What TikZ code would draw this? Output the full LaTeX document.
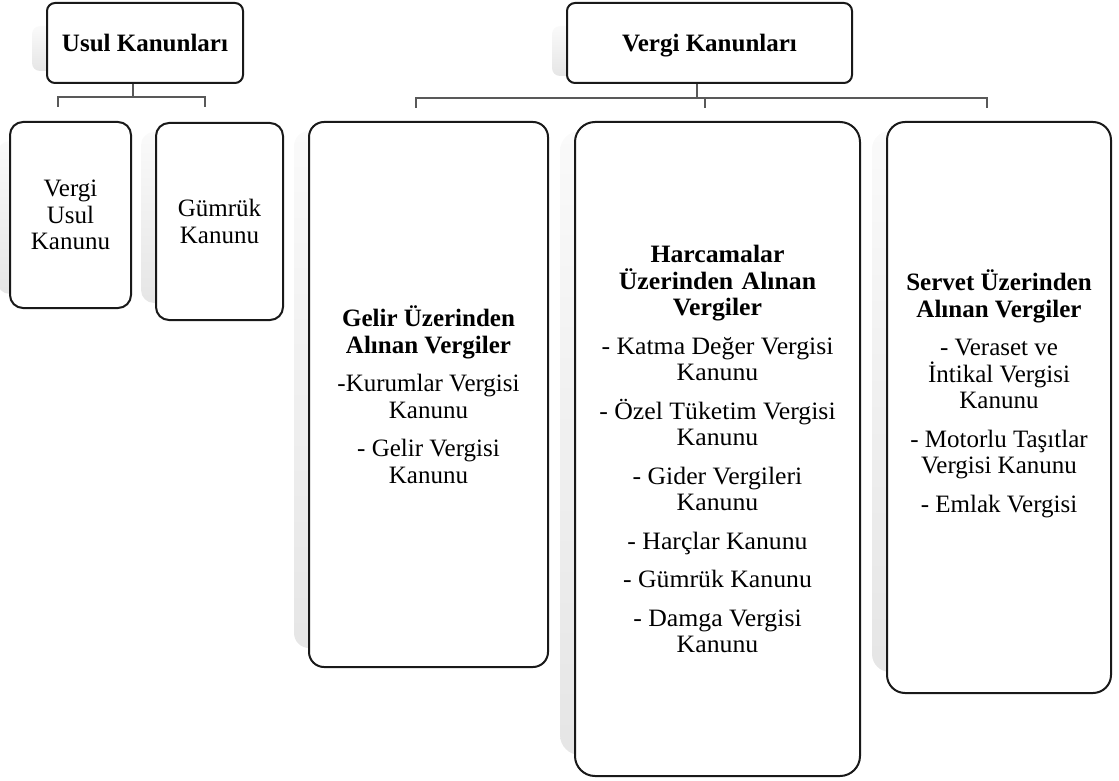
\documentclass[tikz,border=0pt]{standalone}
\usepackage{fontspec}
\setmainfont{Liberation Serif}
\usetikzlibrary{backgrounds}
\begin{document}
\begin{tikzpicture}[x=1pt,y=-1pt,
  box/.style={draw=black!90, line width=2pt, fill=white, align=center, inner sep=0pt,
              font=\fontsize{25}{26.5}\selectfont},
  txt/.style={align=center, inner sep=0pt, font=\fontsize{25}{26.5}\selectfont},
  conn/.style={draw=black!65, line width=1.3pt},
  shadowbox/.style={top color=black!2, bottom color=black!10, draw=none},
]
\useasboundingbox (0,0) rectangle (1119,781);

% top level
\node[box, rounded corners=8pt, minimum width=196pt, minimum height=80pt, text depth=0pt] (usul) at (145,43) {\textbf{Usul Kanunları}};
\node[box, rounded corners=8pt, minimum width=285pt, minimum height=80pt, text depth=0pt] (vergi) at (709.5,43) {\textbf{Vergi Kanunları}};

% usul children
\node[box, rounded corners=13pt, minimum width=121pt, minimum height=186pt] (vuk) at (70.5,215) {Vergi\\Usul\\Kanunu};
\node[box, rounded corners=13pt, minimum width=127pt, minimum height=197pt] (gumruk) at (219.5,221.5) {Gümrük\\Kanunu};

% vergi children
\node[box, rounded corners=15pt, minimum width=239pt, minimum height=545pt] (gelir) at (428.5,394.5)
 {\textbf{Gelir Üzerinden}\\\textbf{Alınan Vergiler}\\[12pt]
  -Kurumlar Vergisi\\Kanunu\\[12pt]
  - Gelir Vergisi\\Kanunu};
\node[box, rounded corners=20pt, minimum width=285pt, minimum height=654pt,
      font=\fontsize{25}{26.5}\selectfont\addfontfeature{FakeStretch=1.03}] (harc) at (717.5,449)
 {\textbf{Harcamalar}\\\textbf{Üzerinden\hspace{2pt} Alınan}\\\textbf{Vergiler}\\[12pt]
  - Katma Değer Vergisi\\Kanunu\\[12pt]
  - Özel Tüketim Vergisi\\Kanunu\\[12pt]
  - Gider Vergileri\\Kanunu\\[12pt]
  - Harçlar Kanunu\\[12pt]
  - Gümrük Kanunu\\[12pt]
  - Damga Vergisi\\Kanunu};
\node[box, rounded corners=18pt, minimum width=224pt, minimum height=571pt] (servet) at (999,407.5) {};
\node[txt] (servettext) at ([yshift=13.5pt]servet.center)
 {\textbf{Servet Üzerinden}\\\textbf{Alınan Vergiler}\\[12pt]
  - Veraset ve\\İntikal Vergisi\\Kanunu\\[12pt]
  - Motorlu Taşıtlar\\Vergisi Kanunu\\[12pt]
  - Emlak Vergisi};

% connectors
\coordinate (ubar) at (133,97);
\coordinate (ud1) at (58,107);
\coordinate (ud2) at (205,107);
\draw[conn] (usul.south -| ubar) -- (ubar);
\draw[conn] (ud1) |- (ubar) -| (ud2);

\coordinate (vbar) at (697,98);
\coordinate (vd1) at (416,108);
\coordinate (vd2) at (705,108);
\coordinate (vd3) at (987,108);
\draw[conn] (vergi.south -| vbar) -- (vbar);
\draw[conn] (vd1) |- (vbar) -| (vd3);
\draw[conn] (vd2) -- (vd2 |- vbar);

% shadows
\begin{scope}[on background layer]
\shade[shadowbox, rounded corners=8pt] ([xshift=-14pt,yshift=-24pt]usul.north west) rectangle ([xshift=-14pt,yshift=13pt]usul.south east);
\shade[shadowbox, rounded corners=8pt] ([xshift=-14pt,yshift=-24pt]vergi.north west) rectangle ([xshift=-14pt,yshift=8pt]vergi.south east);
\shade[shadowbox, rounded corners=13pt] ([xshift=-12pt,yshift=-20pt]vuk.north west) rectangle ([xshift=-12pt,yshift=15pt]vuk.south east);
\shade[shadowbox, rounded corners=13pt] ([xshift=-14pt,yshift=-10pt]gumruk.north west) rectangle ([xshift=-14pt,yshift=18pt]gumruk.south east);
\shade[shadowbox, rounded corners=15pt] ([xshift=-14pt,yshift=-10pt]gelir.north west) rectangle ([xshift=-14pt,yshift=20pt]gelir.south east);
\shade[shadowbox, rounded corners=20pt] ([xshift=-14pt,yshift=-10pt]harc.north west) rectangle ([xshift=-14pt,yshift=22pt]harc.south east);
\shade[shadowbox, rounded corners=18pt] ([xshift=-14pt,yshift=-10pt]servet.north west) rectangle ([xshift=-14pt,yshift=22pt]servet.south east);
\end{scope}
\end{tikzpicture}
\end{document}
